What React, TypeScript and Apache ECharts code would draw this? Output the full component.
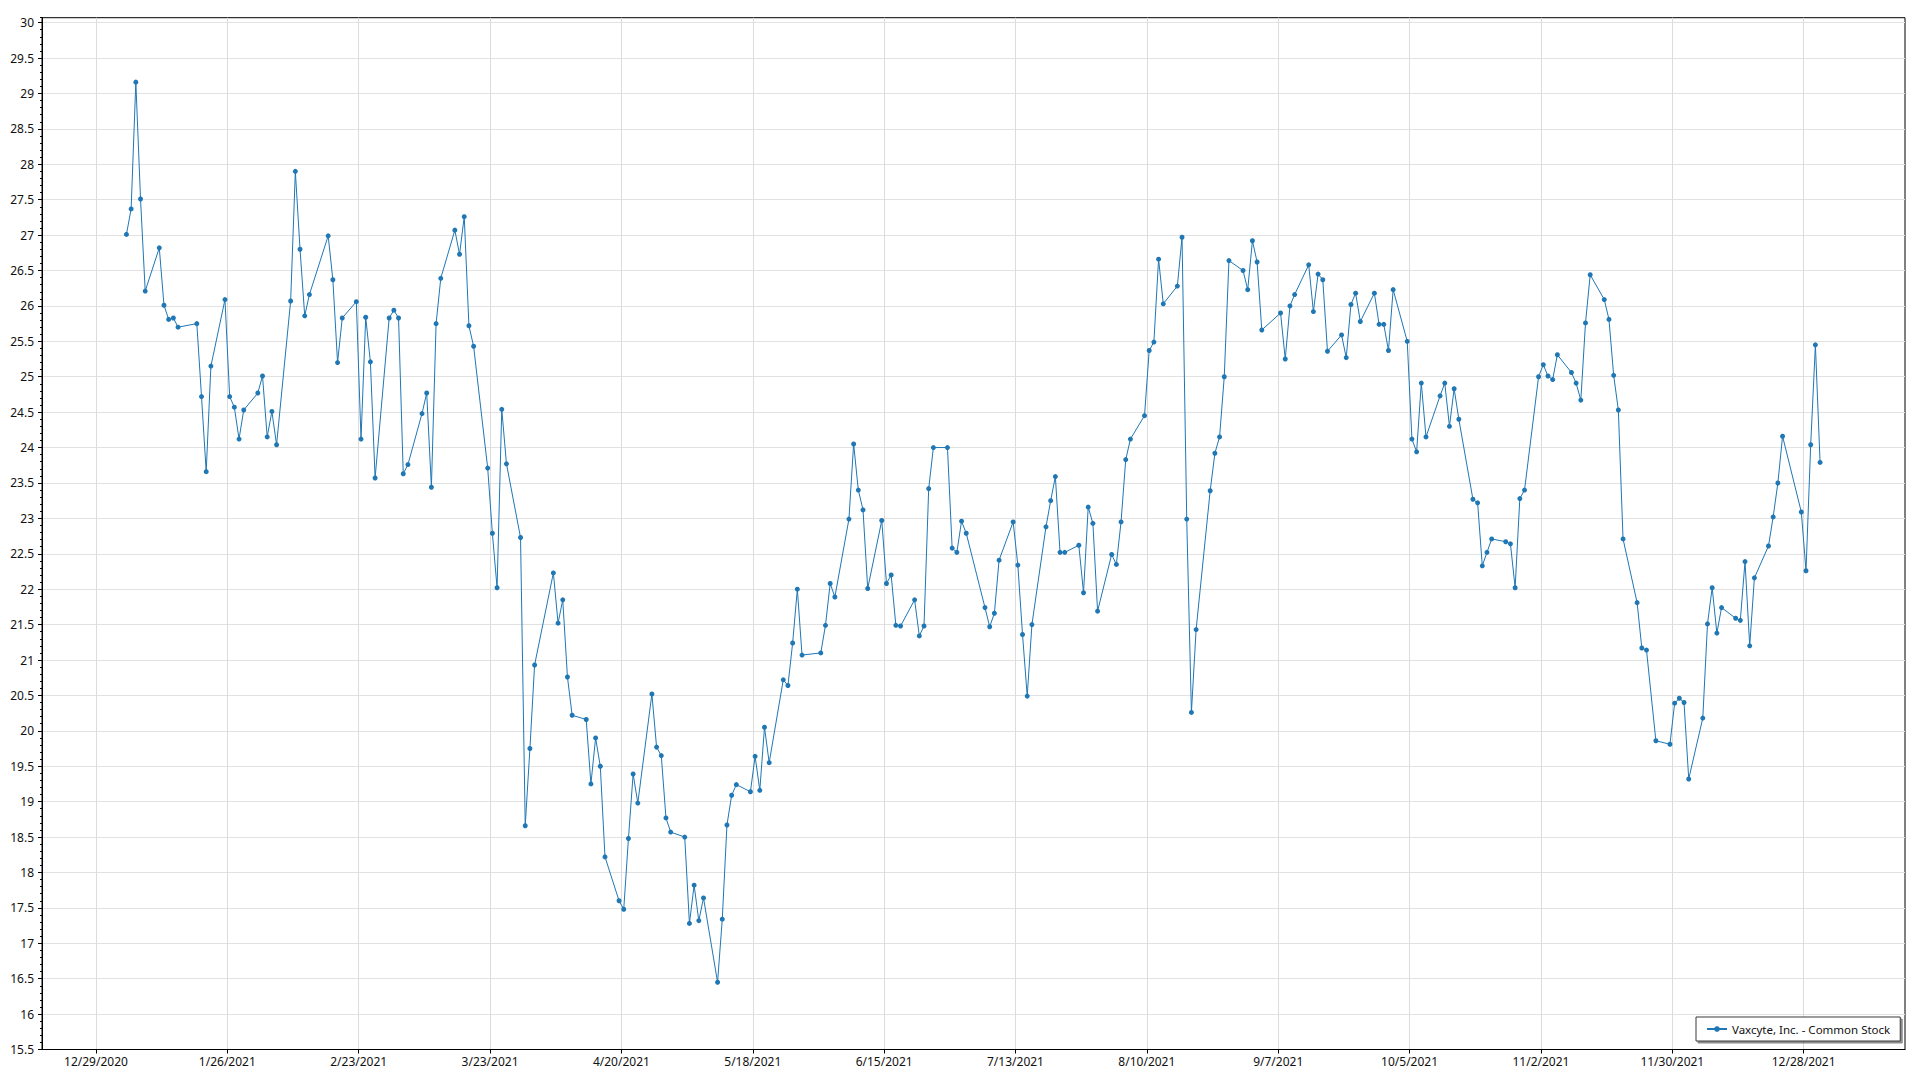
import React, { useEffect, useRef } from "react";
import * as echarts from "echarts";

const SERIES_NAME = "Vaxcyte, Inc. - Common Stock";
const YEAR = 2021;

const tradingDays = [
  "1/4","1/5","1/6","1/7","1/8","1/11","1/12","1/13","1/14","1/15","1/19","1/20","1/21","1/22","1/25","1/26","1/27","1/28","1/29",
  "2/1","2/2","2/3","2/4","2/5","2/8","2/9","2/10","2/11","2/12","2/16","2/17","2/18","2/19","2/22","2/23","2/24","2/25","2/26",
  "3/1","3/2","3/3","3/4","3/5","3/8","3/9","3/10","3/11","3/12","3/15","3/16","3/17","3/18","3/19","3/22","3/23","3/24","3/25","3/26","3/29","3/30","3/31",
  "4/1","4/5","4/6","4/7","4/8","4/9","4/12","4/13","4/14","4/15","4/16","4/19","4/20","4/21","4/22","4/23","4/26","4/27","4/28","4/29","4/30",
  "5/3","5/4","5/5","5/6","5/7","5/10","5/11","5/12","5/13","5/14","5/17","5/18","5/19","5/20","5/21","5/24","5/25","5/26","5/27","5/28",
  "6/1","6/2","6/3","6/4","6/7","6/8","6/9","6/10","6/11","6/14","6/15","6/16","6/17","6/18","6/21","6/22","6/23","6/24","6/25","6/28","6/29","6/30",
  "7/1","7/2","7/6","7/7","7/8","7/9","7/12","7/13","7/14","7/15","7/16","7/19","7/20","7/21","7/22","7/23","7/26","7/27","7/28","7/29","7/30",
  "8/2","8/3","8/4","8/5","8/6","8/9","8/10","8/11","8/12","8/13","8/16","8/17","8/18","8/19","8/20","8/23","8/24","8/25","8/26","8/27","8/30","8/31",
  "9/1","9/2","9/3","9/7","9/8","9/9","9/10","9/13","9/14","9/15","9/16","9/17","9/20","9/21","9/22","9/23","9/24","9/27","9/28","9/29","9/30",
  "10/1","10/4","10/5","10/6","10/7","10/8","10/11","10/12","10/13","10/14","10/15","10/18","10/19","10/20","10/21","10/22","10/25","10/26","10/27","10/28","10/29",
  "11/1","11/2","11/3","11/4","11/5","11/8","11/9","11/10","11/11","11/12","11/15","11/16","11/17","11/18","11/19","11/22","11/23","11/24","11/26","11/29","11/30",
  "12/1","12/2","12/3","12/6","12/7","12/8","12/9","12/10","12/13","12/14","12/15","12/16","12/17","12/20","12/21","12/22","12/23","12/27","12/28","12/29","12/30","12/31",
];

const closePrices = [
  27.01,27.37,29.16,27.51,26.21,26.82,26.01,25.81,25.83,25.70,25.75,24.72,23.66,25.15,26.09,24.72,24.57,24.12,24.53,
  24.77,25.01,24.15,24.51,24.04,26.07,27.90,26.80,25.86,26.16,26.99,26.37,25.20,25.83,26.06,24.12,25.84,25.21,23.57,
  25.83,25.94,25.83,23.63,23.76,24.48,24.77,23.44,25.75,26.39,27.07,26.73,27.26,25.72,25.43,23.71,22.79,22.02,24.54,23.77,22.73,18.66,19.75,
  20.93,22.23,21.52,21.85,20.76,20.22,20.16,19.25,19.90,19.50,18.22,17.60,17.48,18.48,19.39,18.98,20.52,19.77,19.65,18.77,18.57,
  18.50,17.28,17.82,17.32,17.64,16.45,17.34,18.67,19.09,19.24,19.14,19.64,19.16,20.05,19.55,20.72,20.64,21.24,22.00,21.07,
  21.10,21.49,22.08,21.89,22.99,24.05,23.40,23.12,22.01,22.97,22.08,22.20,21.49,21.48,21.85,21.34,21.48,23.42,24.00,24.00,22.58,22.52,
  22.96,22.79,21.74,21.47,21.66,22.41,22.95,22.34,21.36,20.49,21.50,22.88,23.25,23.59,22.52,22.52,22.62,21.95,23.16,22.93,21.69,
  22.49,22.35,22.95,23.83,24.12,24.45,25.37,25.49,26.66,26.03,26.28,26.97,22.99,20.26,21.43,23.39,23.92,24.15,25.00,26.64,26.50,26.23,
  26.92,26.62,25.66,25.90,25.25,26.00,26.16,26.58,25.92,26.45,26.37,25.36,25.59,25.27,26.02,26.18,25.78,26.18,25.74,25.74,25.37,
  26.23,25.50,24.12,23.94,24.91,24.15,24.73,24.91,24.30,24.83,24.40,23.27,23.22,22.33,22.52,22.71,22.67,22.64,22.02,23.28,23.40,
  25.00,25.17,25.01,24.96,25.31,25.06,24.91,24.67,25.76,26.44,26.09,25.81,25.02,24.53,22.71,21.81,21.17,21.14,19.86,19.81,20.39,
  20.46,20.40,19.32,20.18,21.51,22.02,21.38,21.74,21.59,21.56,22.39,21.20,22.16,22.61,23.02,23.50,24.16,23.09,22.26,24.04,25.45,23.79,
];

const xTickLabels = [
  "12/29/2020","1/26/2021","2/23/2021","3/23/2021","4/20/2021","5/18/2021","6/15/2021",
  "7/13/2021","8/10/2021","9/7/2021","10/5/2021","11/2/2021","11/30/2021","12/28/2021",
];

const yTickValues = [
  15.5,16,16.5,17,17.5,18,18.5,19,19.5,20,20.5,21,21.5,22,22.5,23,23.5,24,24.5,25,25.5,26,26.5,27,27.5,28,28.5,29,29.5,30,
];

const DAY = 86400000;
const parseMDY = (s: string) => {
  const [m, d, y] = s.split("/").map(Number);
  return Date.UTC(y, m - 1, d);
};
const fmtMDY = (v: number) => {
  const dt = new Date(v);
  return `${dt.getUTCMonth() + 1}/${dt.getUTCDate()}/${dt.getUTCFullYear()}`;
};

const FONT = "'Noto Sans', 'Open Sans', sans-serif";
const LINE_COLOR = "#1f77b4";

export default function App() {
  const ref = useRef<HTMLDivElement>(null);

  useEffect(() => {
    if (!ref.current) return;
    const chart = echarts.init(ref.current, undefined, { renderer: "svg" });

    const seriesData = tradingDays.map((md, i) => [
      parseMDY(`${md}/${YEAR}`) + DAY / 2,
      closePrices[i],
    ]);
    const xTicks = xTickLabels.map(parseMDY);
    const origin = xTicks[0];

    const option: any = {
      animation: false,
      backgroundColor: "#ffffff",
      textStyle: { fontFamily: FONT },
      grid: {
        left: 42,
        right: 15,
        top: 17.7,
        bottom: 30.5,
        show: true,
        borderColor: "#000",
        borderWidth: 1,
        backgroundColor: "transparent",
      },
      legend: {
        show: true,
        data: [SERIES_NAME],
        left: 1696,
        top: 1017,
        orient: "horizontal",
        padding: [5, 10, 5, 10],
        itemWidth: 20,
        itemHeight: 7,
        itemGap: 5,
        backgroundColor: "#ffffff",
        borderColor: "#3a3a3a",
        borderWidth: 1,
        borderRadius: 0,
        shadowColor: "rgba(0,0,0,0.45)",
        shadowOffsetX: 2,
        shadowOffsetY: 2,
        shadowBlur: 1,
        textStyle: { fontSize: 11.5, color: "#111", fontFamily: FONT, lineHeight: 14 },
      },
      xAxis: {
        type: "value",
        min: origin - 11.5 * DAY,
        max: origin + 385.6 * DAY,
        axisLine: { show: true, onZero: false, lineStyle: { color: "#000", width: 1 } },
        axisTick: { show: true, length: 4, customValues: xTicks, lineStyle: { color: "#000" } },
        axisLabel: {
          show: true,
          customValues: xTicks,
          formatter: (v: number) => fmtMDY(v),
          margin: 6,
          fontSize: 12,
          color: "#111",
          fontFamily: FONT,
        },
        splitLine: { show: true, lineStyle: { color: "#dcdcdc", width: 1 } },
      },
      yAxis: [
        {
          type: "value",
          min: 15.5,
          max: 30.07,
          position: "left",
          axisLine: { show: true, onZero: false, lineStyle: { color: "#000", width: 1 } },
          axisTick: { show: true, length: 4, customValues: yTickValues, lineStyle: { color: "#000" } },
          axisLabel: {
            show: true,
            customValues: yTickValues,
            formatter: (v: number) => String(v),
            margin: 8,
            fontSize: 12,
            color: "#111",
            fontFamily: FONT,
          },
          splitLine: { show: true, lineStyle: { color: "#e2e2e2", width: 1 } },
        },
        {
          type: "value",
          min: 15.5,
          max: 30.07,
          interval: 0.1,
          position: "left",
          axisLine: { show: false },
          axisTick: { show: true, length: 2, lineStyle: { color: "#000" } },
          axisLabel: { show: false },
          splitLine: { show: false },
        },
      ],
      series: [
        {
          name: SERIES_NAME,
          type: "line",
          yAxisIndex: 0,
          data: seriesData,
          symbol: "circle",
          symbolSize: 5,
          showSymbol: true,
          showAllSymbol: true,
          lineStyle: { color: LINE_COLOR, width: 1 },
          itemStyle: { color: LINE_COLOR },
          emphasis: { disabled: true },
          z: 3,
        },
      ],
    };

    chart.setOption(option);
    return () => chart.dispose();
  }, []);

  return (
    <div
      ref={ref}
      style={{ position: "absolute", left: 0, top: 0, width: 1920, height: 1080, background: "#fff" }}
    />
  );
}
